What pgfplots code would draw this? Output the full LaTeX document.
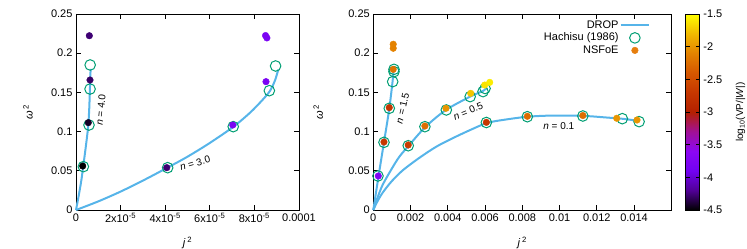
\documentclass[border=0pt]{standalone}
\usepackage{fontspec}
\setmainfont{Liberation Sans}
\usepackage{pgfplots}
\usepackage{pgfplotstable}
\pgfplotsset{compat=1.18}
\definecolor{dropblue}{HTML}{56B4E9}
\definecolor{hgreen}{HTML}{009E73}
\definecolor{nsorange}{HTML}{E67E0E}

% left panel data
\pgfplotstableread{
x y
0 0
1.2e-6 0.018
2.4e-6 0.038
3.2e-6 0.055
4.0e-6 0.072
4.8e-6 0.090
5.5e-6 0.108
5.95e-6 0.130
6.25e-6 0.155
6.55e-6 0.180
}\dropA
\pgfplotstableread{
x y
0 0
1e-5 0.011
2e-5 0.0235
3e-5 0.0375
4.1e-5 0.054
5e-5 0.068
6e-5 0.0855
7.05e-5 0.106
7.8e-5 0.124
8.35e-5 0.140
8.7e-5 0.152
8.92e-5 0.165
9.07e-5 0.179
}\dropB
\pgfplotstableread{
x y
3.3e-6 0.0553
5.83e-6 0.1084
6.3e-6 0.1543
6.35e-6 0.185
4.11e-5 0.054
7.05e-5 0.1063
8.67e-5 0.1522
8.95e-5 0.1837
}\hachL
\pgfplotstableread{
x y c
3.0e-6 0.0561 -4.5
5.52e-6 0.1114 -4.42
6.28e-6 0.1658 -4.3
5.98e-6 0.2223 -4.27
4.07e-5 0.054 -4.27
7.03e-5 0.1084 -3.8
8.52e-5 0.1637 -3.8
8.50e-5 0.2225 -3.8
8.56e-5 0.2195 -3.8
}\nsL

% right panel data
\pgfplotstableread{
x y
0 0
0.00028 0.043
0.00057 0.086
0.00085 0.128
0.00103 0.163
0.00111 0.183
}\dropC
\pgfplotstableread{
x y
0 0
0.0002 0.014
0.0005 0.032
0.001 0.053
0.0014 0.068
0.0019 0.082
0.0028 0.106
0.0039 0.1276
0.0052 0.1446
0.0059 0.152
0.0061 0.156
}\dropD
\pgfplotstableread{
x y
0 0
0.0002 0.010
0.0005 0.022
0.001 0.037
0.0016 0.051
0.0025 0.067
0.0034 0.081
0.0043 0.092
0.0052 0.102
0.0061 0.111
0.007 0.115
0.0083 0.119
0.0097 0.1205
0.0113 0.120
0.0125 0.118
0.0134 0.1163
0.0143 0.1135
}\dropE
\pgfplotstableread{
x y
0.00025 0.0434
0.000573 0.0863
0.000857 0.1297
0.00104 0.1637
0.00111 0.1764
0.00111 0.1794
0.001875 0.082
0.00277 0.1063
0.00392 0.1276
0.0052 0.1446
0.00589 0.151
0.0060 0.155
0.00607 0.1116
0.00827 0.119
0.01125 0.1199
0.01337 0.1165
0.01427 0.1127
}\hachR
\pgfplotstableread{
x y c
0.000268 0.0434 -3.75
0.000573 0.0867 -2.7
0.000857 0.1306 -2.72
0.00107 0.1794 -2.2
0.00107 0.2114 -2.1
0.00107 0.2063 -2.1
0.001875 0.0829 -2.65
0.00277 0.1071 -2.25
0.0039 0.1297 -2.0
0.00523 0.1488 -1.75
0.00598 0.1594 -1.62
0.00625 0.1628 -1.58
0.00607 0.1118 -2.7
0.00827 0.1195 -2.25
0.01125 0.1205 -2.25
0.01307 0.117 -2.0
0.01416 0.1148 -2.0
}\nsR

\pgfplotsset{
  gpbase/.style={
    scale only axis,
    height=196pt,
    ymin=0, ymax=0.25,
    ytick={0,0.05,0.1,0.15,0.2,0.25},
    yticklabels={0,0.05,0.1,0.15,0.2,0.25},
    tick align=inside, tick pos=both,
    major tick length=5pt,
    scaled ticks=false,
    tick label style={font=\fontsize{11}{13}\selectfont},
    label style={font=\fontsize{11}{13}\selectfont},
    colormap={gp}{rgb=(0,0,0) rgb=(0.316,0.001,0.588) rgb=(0.447,0.008,0.951) rgb=(0.548,0.027,0.951) rgb=(0.632,0.064,0.588) rgb=(0.707,0.125,0) rgb=(0.775,0.216,0) rgb=(0.837,0.343,0) rgb=(0.894,0.512,0) rgb=(0.949,0.729,0) rgb=(1,1,0)},
    point meta min=-4.5, point meta max=-1.5,
    axis line style={line width=0.8pt},
    every tick/.style={black, line width=0.7pt},
    clip=false,
    ylabel={\textit{ω}\,\textsuperscript{2}},
    xlabel={\textit{j}\,\textsuperscript{2}},
    xlabel style={at={(axis description cs:0.5,-0.168)}, anchor=center},
  },
  dropline/.style={dropblue, line width=2pt, no markers, smooth},
  hcircle/.style={only marks, mark=o, mark size=5.3pt, hgreen, mark options={line width=1pt}},
  nsdot/.style={scatter, only marks, mark=*, mark size=3.3pt, scatter src=explicit,
    scatter/use mapped color={draw=mapped color, fill=mapped color}},
  longlegend/.style={legend image code/.code={\draw[##1] (-0.2cm,0cm) -- (0.8cm,0cm);}},
}

\begin{document}
\begin{tikzpicture}
\useasboundingbox (0,0) rectangle (747pt,249pt);

\begin{axis}[gpbase,
  at={(76pt,39pt)}, anchor=south west,
  width=223pt,
  xmin=0, xmax=0.0001,
  xtick={0,2e-5,4e-5,6e-5,8e-5,1e-4},
  xticklabels={0,2x10\textsuperscript{-5},4x10\textsuperscript{-5},6x10\textsuperscript{-5},8x10\textsuperscript{-5},0.0001},
  ylabel style={at={(axis description cs:-0.215,0.5)}, anchor=center},
]
\addplot[dropline] table[x=x,y=y] {\dropA};
\addplot[dropline] table[x=x,y=y] {\dropB};
\addplot[hcircle] table[x=x,y=y] {\hachL};
\addplot[nsdot] table[x=x,y=y,meta=c] {\nsL};
\node[rotate=84, font=\fontsize{10}{12}\selectfont] at (axis cs:1.11e-5,0.1276) {\textit{n} = 4.0};
\node[rotate=16, font=\fontsize{10}{12}\selectfont] at (axis cs:5.34e-5,0.0596) {\textit{n} = 3.0};
\end{axis}

\begin{axis}[gpbase,
  at={(373.3pt,39pt)}, anchor=south west,
  width=298pt,
  xmin=0, xmax=0.016,
  xtick={0,0.002,0.004,0.006,0.008,0.01,0.012,0.014},
  xticklabels={0,0.002,0.004,0.006,0.008,0.01,0.012,0.014},
  ylabel style={at={(axis description cs:-0.185,0.5)}, anchor=center},
  legend style={at={(axis description cs:0.94,0.985)}, anchor=north east, draw=none, fill=none,
    font=\fontsize{11}{11}\selectfont, row sep=0pt,
    nodes={inner sep=1pt, text height=8pt, text depth=2.5pt}},
  legend cell align=right,
  legend plot pos=right,
  colorbar,
  colorbar style={
    at={(parent axis.north east)}, anchor=north west, xshift=6pt,
    width=14pt,
    ytick={-4.5,-4,-3.5,-3,-2.5,-2,-1.5},
    yticklabels={-4.5,-4,-3.5,-3,-2.5,-2,-1.5},
    tick align=inside, ytick pos=both, yticklabel pos=right,
    major tick length=4pt,
    tick label style={font=\fontsize{11}{13}\selectfont},
    ylabel={log\textsubscript{10}(VP/|\textit{W}|)},
    ylabel style={font=\fontsize{11}{13}\selectfont},
    every axis y label/.style={at={(axis description cs:3.9,0.5)}, anchor=center, rotate=90},
    axis line style={line width=0.8pt},
  },
]
\addlegendimage{dropblue, line width=2.2pt, longlegend}
\addlegendentry{DROP}
\addlegendimage{only marks, mark=o, mark size=5.3pt, hgreen, mark options={line width=1pt}}
\addlegendentry{Hachisu (1986)}
\addlegendimage{only marks, mark=*, mark size=3.3pt, nsorange}
\addlegendentry{NSFoE}
\addplot[dropline, forget plot] table[x=x,y=y] {\dropC};
\addplot[dropline, forget plot] table[x=x,y=y] {\dropD};
\addplot[dropline, forget plot] table[x=x,y=y] {\dropE};
\addplot[hcircle, forget plot] table[x=x,y=y] {\hachR};
\addplot[nsdot, forget plot] table[x=x,y=y,meta=c] {\nsR};
\node[rotate=77, font=\fontsize{10}{12}\selectfont] at (axis cs:0.00157,0.1297) {\textit{n} = 1.5};
\node[rotate=22, font=\fontsize{10}{12}\selectfont] at (axis cs:0.00509,0.1259) {\textit{n} = 0.5};
\node[font=\fontsize{10}{12}\selectfont] at (axis cs:0.00996,0.1075) {\textit{n} = 0.1};
\end{axis}
\end{tikzpicture}
\end{document}
